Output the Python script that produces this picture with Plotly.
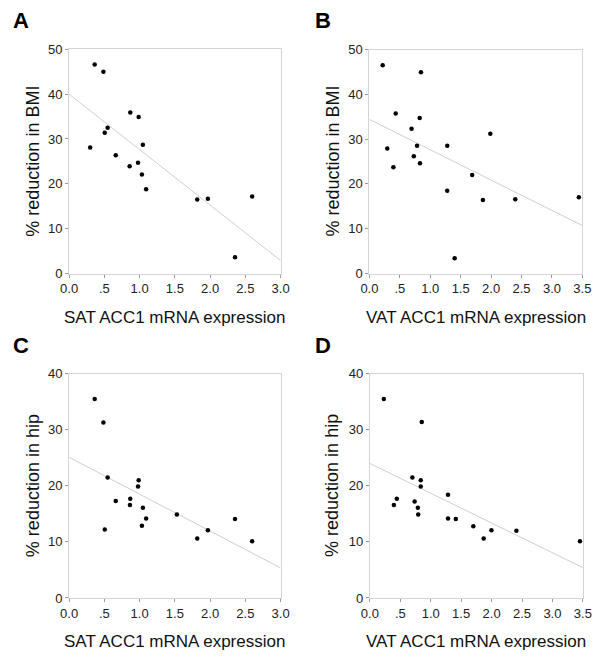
import plotly.graph_objects as go

# Panel A: SAT ACC1 vs % reduction in BMI
sat_bmi_x = [0.362, 0.486, 0.867, 0.986, 0.546, 0.505, 0.298, 1.046, 0.661, 0.977,
             0.858, 1.032, 1.092, 1.817, 1.968, 2.596, 2.353]
sat_bmi_y = [46.6, 45.0, 35.9, 34.9, 32.5, 31.4, 28.1, 28.7, 26.4, 24.7,
             23.9, 22.1, 18.8, 16.5, 16.7, 17.2, 3.6]
# Panel B: VAT ACC1 vs % reduction in BMI
vat_bmi_x = [0.218, 0.847, 0.432, 0.826, 0.693, 1.987, 0.293, 0.783, 1.279, 0.730,
             0.831, 0.394, 1.689, 1.279, 1.865, 2.397, 3.442, 1.401]
vat_bmi_y = [46.5, 44.9, 35.7, 34.7, 32.3, 31.2, 27.9, 28.5, 28.5, 26.2,
             24.6, 23.7, 22.0, 18.5, 16.4, 16.6, 17.0, 3.4]
# Panel C: SAT ACC1 vs % reduction in hip
sat_hip_x = [0.362, 0.486, 0.546, 0.986, 0.977, 0.661, 0.867, 0.862, 1.046, 1.092,
             1.032, 0.505, 1.528, 1.817, 1.968, 2.353, 2.596]
sat_hip_y = [35.5, 31.3, 21.5, 21.0, 19.9, 17.3, 17.7, 16.6, 16.1, 14.2,
             12.9, 12.2, 14.9, 10.6, 12.1, 14.1, 10.1]
# Panel D: VAT ACC1 vs % reduction in hip
vat_hip_x = [0.229, 0.852, 0.698, 0.836, 0.836, 1.284, 0.442, 0.735, 0.394, 0.788,
             0.794, 1.284, 1.412, 1.700, 1.998, 2.408, 1.870, 3.452]
vat_hip_y = [35.5, 31.4, 21.5, 21.0, 19.9, 18.4, 17.7, 17.2, 16.6, 16.1,
             14.9, 14.2, 14.1, 12.8, 12.1, 12.0, 10.6, 10.1]

# Fit lines: [intercept, slope]
fit_a = [40.0, -12.37]
fit_b = [34.4, -6.77]
fit_c = [25.1, -6.58]
fit_d = [24.0, -5.31]

panel_letters = ["A", "B", "C", "D"]
x_titles = ["SAT ACC1 mRNA expression", "VAT ACC1 mRNA expression",
            "SAT ACC1 mRNA expression", "VAT ACC1 mRNA expression"]
y_titles = ["% reduction in BMI", "% reduction in BMI",
            "% reduction in hip", "% reduction in hip"]
x_ticks_3 = ["0.0", ".5", "1.0", "1.5", "2.0", "2.5", "3.0"]
x_ticks_35 = ["0.0", ".5", "1.0", "1.5", "2.0", "2.5", "3.0", "3.5"]
y_ticks_50 = ["0", "10", "20", "30", "40", "50"]
y_ticks_40 = ["0", "10", "20", "30", "40"]

W, H = 603, 661
FONT = "Liberation Sans, Arial, Helvetica, sans-serif"
FRAME = "#d4d4d4"

panels = [
    dict(x=sat_bmi_x, y=sat_bmi_y, fit=fit_a, xt=x_ticks_3, yt=y_ticks_50,
         px=(62, 280), py=(43.3, 272.7), letter=(12, 14), ytx=25),
    dict(x=vat_bmi_x, y=vat_bmi_y, fit=fit_b, xt=x_ticks_35, yt=y_ticks_50,
         px=(371.5, 591), py=(43.5, 272.7), letter=(324, 14), ytx=333),
    dict(x=sat_hip_x, y=sat_hip_y, fit=fit_c, xt=x_ticks_3, yt=y_ticks_40,
         px=(62, 280), py=(375.3, 604.7), letter=(12, 346), ytx=25),
    dict(x=vat_hip_x, y=vat_hip_y, fit=fit_d, xt=x_ticks_35, yt=y_ticks_40,
         px=(372, 591.5), py=(375.3, 604.7), letter=(324, 346), ytx=333),
]

fig = go.Figure()
annotations = []
for i, p in enumerate(panels):
    n = "" if i == 0 else str(i + 1)
    xmax = float(p["xt"][-1])
    ymax = float(p["yt"][-1])
    xa, ya = "x" + n, "y" + n
    # fit line
    fx = [0.0, xmax]
    fy = [p["fit"][0] + p["fit"][1] * v for v in fx]
    fig.add_trace(go.Scatter(x=fx, y=fy, mode="lines", xaxis=xa, yaxis=ya,
                             line=dict(color="#cfcfcf", width=1), showlegend=False,
                             hoverinfo="skip"))
    fig.add_trace(go.Scatter(x=p["x"], y=p["y"], mode="markers", xaxis=xa, yaxis=ya,
                             marker=dict(color="black", size=4.5), showlegend=False))
    xvals = [float(t) for t in p["xt"]]
    yvals = [float(t) for t in p["yt"]]
    common = dict(showgrid=False, zeroline=False, showline=True, mirror=True,
                  linecolor=FRAME, linewidth=1, ticks="outside", ticklen=3,
                  tickcolor="#9a9a9a", tickfont=dict(family=FONT, size=13, color="#222"))
    fig.update_layout(**{
        "xaxis" + n: dict(domain=[p["px"][0] / W, p["px"][1] / W], range=[0, xmax],
                          tickvals=xvals, ticktext=p["xt"], anchor=ya, **common),
        "yaxis" + n: dict(domain=[1 - p["py"][1] / H, 1 - p["py"][0] / H], range=[0, ymax],
                          tickvals=yvals, ticktext=p["yt"], anchor=xa, **common),
    })
    cx = (p["px"][0] + p["px"][1]) / 2
    cy = (p["py"][0] + p["py"][1]) / 2
    annotations.append(dict(text=x_titles[i], x=cx / W, y=1 - (p["py"][1] + 45) / H,
                            xref="paper", yref="paper", showarrow=False,
                            xanchor="center", yanchor="middle",
                            font=dict(family=FONT, size=17, color="#111")))
    annotations.append(dict(text=y_titles[i], x=p["ytx"] / W, y=1 - cy / H,
                            xref="paper", yref="paper", showarrow=False, textangle=-90,
                            xanchor="center", yanchor="middle",
                            font=dict(family=FONT, size=18, color="#111")))
    annotations.append(dict(text="<b>" + panel_letters[i] + "</b>",
                            x=p["letter"][0] / W, y=1 - p["letter"][1] / H,
                            xref="paper", yref="paper", showarrow=False,
                            xanchor="center", yanchor="middle",
                            font=dict(family=FONT, size=22, color="black")))

fig.update_layout(width=W, height=H, margin=dict(l=0, r=0, t=0, b=0),
                  paper_bgcolor="white", plot_bgcolor="white",
                  annotations=annotations)
fig.write_html("out.html", config={"displayModeBar": False},
               post_script="document.body.style.margin='0';document.body.style.overflow='hidden';")
